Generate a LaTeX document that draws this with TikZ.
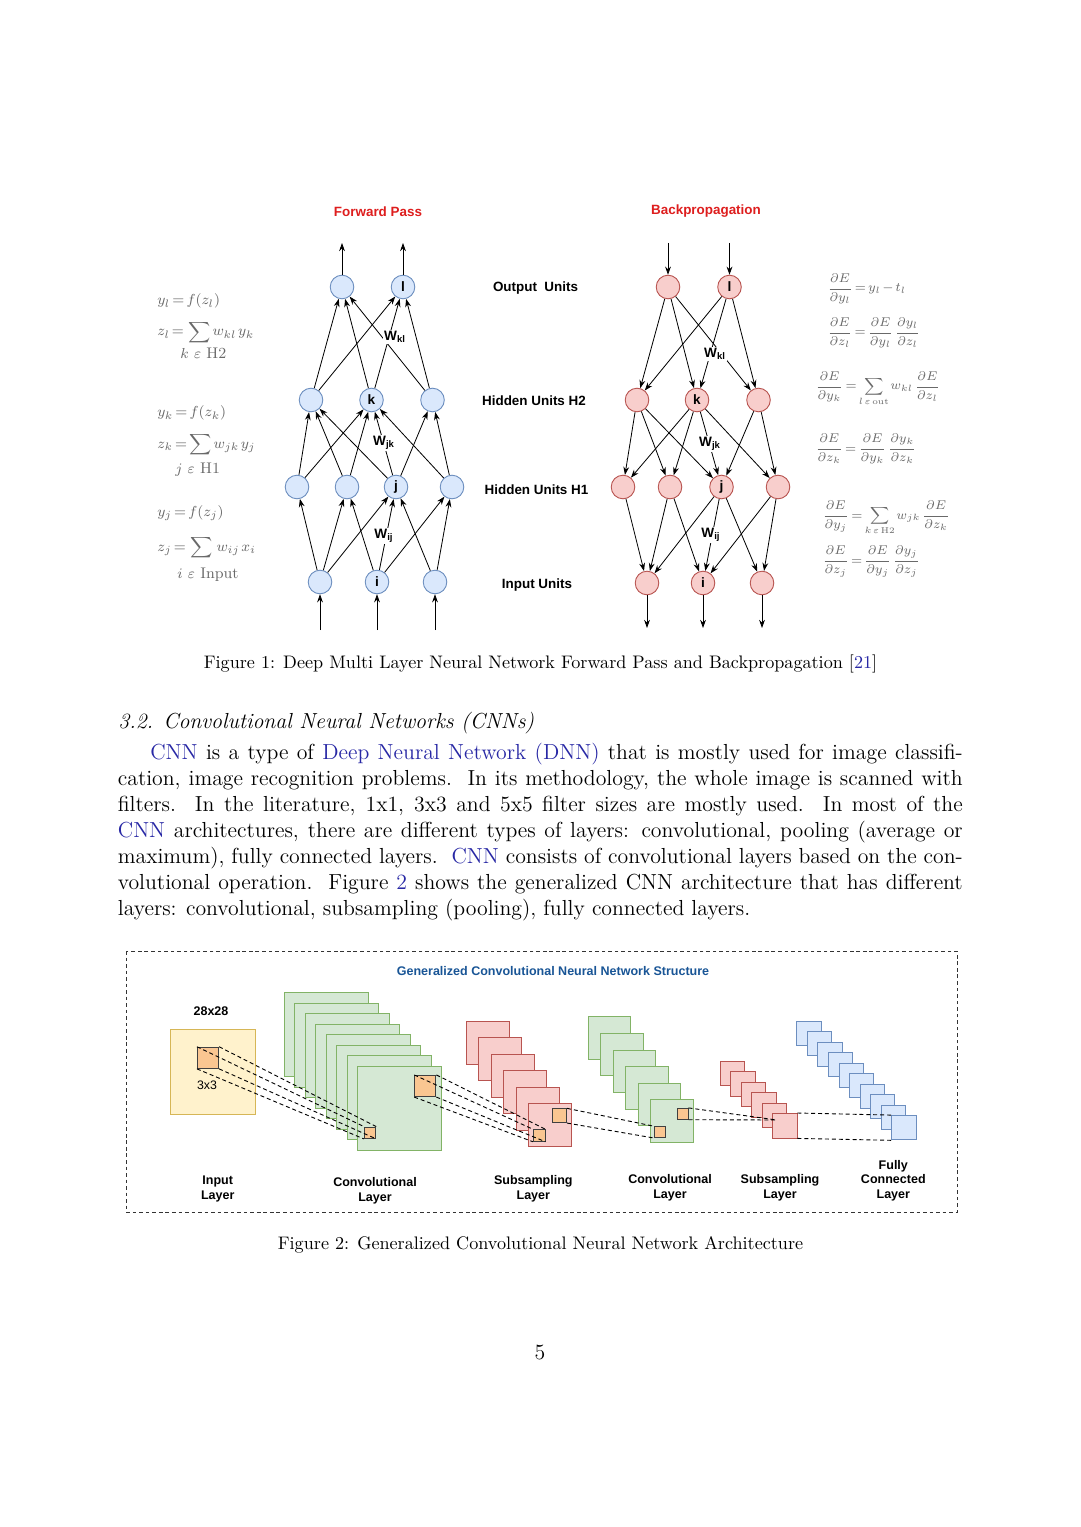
\documentclass[tikz,border=0pt]{standalone}
\usepackage{fontspec}
\usepackage{amsmath}
\usetikzlibrary{arrows.meta}
\newfontfamily\lsans{Liberation Sans}
\definecolor{fpfill}{RGB}{218,232,252}
\definecolor{fpdraw}{RGB}{108,142,191}
\definecolor{bpfill}{RGB}{248,206,204}
\definecolor{bpdraw}{RGB}{184,84,80}
\definecolor{titlered}{RGB}{222,30,30}
\definecolor{eqgray}{RGB}{105,105,105}
\definecolor{linkblue}{RGB}{40,40,165}
\definecolor{cnnblue}{RGB}{25,85,150}
\definecolor{yelfill}{RGB}{255,242,204}
\definecolor{yeldraw}{RGB}{214,182,86}
\definecolor{grnfill}{RGB}{213,232,212}
\definecolor{grndraw}{RGB}{130,179,102}
\definecolor{orgfill}{RGB}{250,198,145}
\newcommand{\tightmath}{\thickmuskip=2.5mu plus 1mu\medmuskip=2mu plus 1mu\thinmuskip=2mu}
\tikzset{
  nf/.style={circle, draw=fpdraw, fill=fpfill, line width=0.5pt, minimum size=13pt, inner sep=0pt, font=\lsans\bfseries\fontsize{7.5}{8}\selectfont},
  nb/.style={circle, draw=bpdraw, fill=bpfill, line width=0.5pt, minimum size=13pt, inner sep=0pt, font=\lsans\bfseries\fontsize{7.5}{8}\selectfont},
  arr/.style={-{Stealth[length=4.5pt,width=3.2pt]}, line width=0.45pt, black},
  wlab/.style={fill=white, inner sep=0.6pt, font=\lsans\bfseries\fontsize{7.5}{8}\selectfont},
  laylab/.style={inner sep=0pt, font=\lsans\bfseries\fontsize{7.4}{8}\selectfont},
  ttl/.style={inner sep=0pt, font=\lsans\bfseries\fontsize{7.4}{8}\selectfont, text=titlered},
  eqL/.style={text=eqgray, font=\fontsize{8.5}{10}\selectfont\tightmath, inner sep=0pt, anchor=base west},
  eqR/.style={text=eqgray, font=\fontsize{6.6}{8}\selectfont\tightmath, inner sep=0pt, anchor=base west},
  sq/.style={rectangle, inner sep=0pt, line width=0.5pt},
  dl/.style={dashed, dash pattern=on 2.2pt off 1.6pt, line width=0.5pt, black},
  cnnlab/.style={inner sep=0pt, font=\lsans\bfseries\fontsize{6.9}{8}\selectfont, align=center},
  bodytxt/.style={anchor=base west, inner sep=0pt, font=\fontsize{12}{14.5}\selectfont},
  captxt/.style={anchor=base, inner sep=0pt, font=\fontsize{10}{12.4}\selectfont}
}
\begin{document}
\begin{tikzpicture}[x=0.55118pt,y=-0.55118pt]
\fill[white] (0,0) rectangle (1080,1527);
\useasboundingbox (0,0) rectangle (1080,1527);

% ---------- Titles ----------
\node[ttl] (tfp) at (378,211.5) {Forward Pass};
\node[ttl] (tbp) at (706,211.5) {Backpropagation};

% ---------- Forward pass nodes ----------
\node[nf] (FOa) at (342,287) {};
\node[nf] (FOb) at (403,287) {l};
\node[nf] (FGa) at (311,400) {};
\node[nf] (FGb) at (371.5,400) {k};
\node[nf] (FGc) at (432.5,400) {};
\node[nf] (FHa) at (297,487) {};
\node[nf] (FHb) at (347,487) {};
\node[nf] (FHc) at (396,487) {j};
\node[nf] (FHd) at (452,487) {};
\node[nf] (FIa) at (320,582) {};
\node[nf] (FIb) at (377,582) {i};
\node[nf] (FIc) at (435,582) {};

\coordinate (FtA) at (342,243);
\coordinate (FtB) at (403,243);
\coordinate (FbA) at (320,630);
\coordinate (FbB) at (377,630);
\coordinate (FbC) at (435,630);
\draw[arr] (FOa) -- (FtA);
\draw[arr] (FOb) -- (FtB);
\draw[arr] (FbA) -- (FIa);
\draw[arr] (FbB) -- (FIb);
\draw[arr] (FbC) -- (FIc);

\foreach \a/\b in {FIa/FHa, FIa/FHb, FIa/FHc, FIb/FHb, FIb/FHc, FIb/FHd, FIc/FHc, FIc/FHd,
                   FHa/FGa, FHa/FGb, FHb/FGa, FHb/FGb, FHc/FGa, FHc/FGb, FHc/FGc, FHd/FGb, FHd/FGc,
                   FGa/FOa, FGa/FOb, FGb/FOa, FGb/FOb, FGc/FOa, FGc/FOb}
  \draw[arr] (\a) -- (\b);

\node[wlab] (fwkl) at (395,337) {W\textsubscript{kl}};
\node[wlab] (fwjk) at (384,443) {W\textsubscript{jk}};
\node[wlab] (fwij) at (384,536) {W\textsubscript{ij}};

% ---------- Layer labels ----------
\node[laylab] (lo) at (535.5,288) {Output\ \ Units};
\node[laylab] (lh2) at (534,401) {Hidden Units H2};
\node[laylab] (lh1) at (536.5,489.5) {Hidden Units H1};
\node[laylab] (li) at (537,585.5) {Input Units};

% ---------- Backprop nodes ----------
\node[nb] (BOa) at (668,287) {};
\node[nb] (BOb) at (729.5,287) {l};
\node[nb] (BGa) at (637,400) {};
\node[nb] (BGb) at (697,400) {k};
\node[nb] (BGc) at (758.5,400) {};
\node[nb] (BHa) at (623,487) {};
\node[nb] (BHb) at (670,487) {};
\node[nb] (BHc) at (721.5,487) {j};
\node[nb] (BHd) at (778,487) {};
\node[nb] (BIa) at (647,583) {};
\node[nb] (BIb) at (703,583) {i};
\node[nb] (BIc) at (762,583) {};

\coordinate (BtA) at (668,243);
\coordinate (BtB) at (729.5,243);
\coordinate (BbA) at (647,628);
\coordinate (BbB) at (703,628);
\coordinate (BbC) at (762,628);
\draw[arr] (BtA) -- (BOa);
\draw[arr] (BtB) -- (BOb);
\draw[arr] (BIa) -- (BbA);
\draw[arr] (BIb) -- (BbB);
\draw[arr] (BIc) -- (BbC);

\foreach \a/\b in {BOa/BGa, BOa/BGb, BOa/BGc, BOb/BGa, BOb/BGb, BOb/BGc,
                   BGa/BHa, BGa/BHb, BGa/BHc, BGb/BHa, BGb/BHb, BGb/BHc, BGb/BHd, BGc/BHc, BGc/BHd,
                   BHa/BIa, BHb/BIa, BHb/BIb, BHc/BIa, BHc/BIb, BHc/BIc, BHd/BIb, BHd/BIc}
  \draw[arr] (\a) -- (\b);

\node[wlab] (bwkl) at (715,354) {W\textsubscript{kl}};
\node[wlab] (bwjk) at (710,444) {W\textsubscript{jk}};
\node[wlab] (bwij) at (711,535) {W\textsubscript{ij}};

% ---------- Left equations ----------
\node[eqL] (el1) at (157,305) {$y_l = f(z_l)$};
\node[eqL] (el2) at (157,336) {$z_l = \;{\displaystyle\sum}\; w_{kl}\, y_k$};
\node[eqL] (el3) at (180,359) {$k\ \varepsilon\ \mathrm{H2}$};
\node[eqL] (el4) at (157,417) {$y_k = f(z_k)$};
\node[eqL] (el5) at (157,448) {$z_k = {\displaystyle\sum}\; w_{jk}\, y_j$};
\node[eqL] (el6) at (175,473) {$j\ \varepsilon\ \mathrm{H1}$};
\node[eqL] (el7) at (157,516) {$y_j = f(z_j)$};
\node[eqL] (el8) at (157,551) {$z_j = \;{\displaystyle\sum}\;\; w_{ij}\, x_i$};
\node[eqL] (el9) at (177,578) {$i\ \varepsilon\ \mathrm{Input}$};

% ---------- Right equations ----------
\node[eqR] (er1) at (827,292) {$\displaystyle\frac{\partial E}{\partial y_l} = y_l - t_l$};
\node[eqR] (er2) at (827,336) {$\displaystyle\frac{\partial E}{\partial z_l} = \frac{\partial E}{\partial y_l}\,\frac{\partial y_l}{\partial z_l}$};
\node[eqR] (er3) at (815,390) {$\displaystyle\frac{\partial E}{\partial y_k} = \sum_{l\,\varepsilon\,\mathrm{out}} w_{kl}\,\frac{\partial E}{\partial z_l}$};
\node[eqR] (er4) at (815,452) {$\displaystyle\frac{\partial E}{\partial z_k} = \frac{\partial E}{\partial y_k}\,\frac{\partial y_k}{\partial z_k}$};
\node[eqR] (er5) at (822,519) {$\displaystyle\frac{\partial E}{\partial y_j} = \sum_{k\,\varepsilon\,\mathrm{H2}} w_{jk}\,\frac{\partial E}{\partial z_k}$};
\node[eqR] (er6) at (822,564) {$\displaystyle\frac{\partial E}{\partial z_j} = \frac{\partial E}{\partial y_j}\,\frac{\partial y_j}{\partial z_j}$};

% ---------- Caption 1 ----------
\node[captxt] (cap1) at (540.5,668.5) {Figure 1: Deep Multi Layer Neural Network Forward Pass and Backpropagation [\textcolor{linkblue}{21}]};

% ---------- Section text ----------
\node[bodytxt] (sec) at (118,728) {\itshape 3.2. Convolutional Neural Networks (CNNs)};
\node[bodytxt] (t1) at (117.5,759) {\hbox to 465.7pt{\hskip 17.9pt\textcolor{linkblue}{CNN} is a type of \textcolor{linkblue}{Deep Neural Network (DNN)} that is mostly used for image classifi-}};
\node[bodytxt] (t2) at (117.5,785) {\hbox to 465.7pt{cation, image recognition problems.\ \ In its methodology, the whole image is scanned with}};
\node[bodytxt] (t3) at (117.5,811) {\hbox to 465.7pt{filters.\ \ In the literature, 1x1, 3x3 and 5x5 filter sizes are mostly used.\ \ In most of the}};
\node[bodytxt] (t4) at (117.5,837) {\hbox to 465.7pt{\textcolor{linkblue}{CNN} architectures, there are different types of layers: convolutional, pooling (average or}};
\node[bodytxt] (t5) at (117.5,863) {\hbox to 465.7pt{maximum), fully connected layers.\ \ \textcolor{linkblue}{CNN} consists of convolutional layers based on the con-}};
\node[bodytxt] (t6) at (117.5,889) {\hbox to 465.7pt{volutional operation.\ \ Figure \textcolor{linkblue}{2} shows the generalized CNN architecture that has different}};
\node[bodytxt] (t7) at (117.5,915) {layers: convolutional, subsampling (pooling), fully connected layers.};

% ---------- CNN figure ----------
\draw[dashed, dash pattern=on 2pt off 1.6pt, line width=0.5pt, black!80] (126,951) rectangle (957,1212);
\node[inner sep=0pt, font=\lsans\bfseries\fontsize{6.9}{8}\selectfont, text=cnnblue] (cnnt) at (553,971) {Generalized Convolutional Neural Network Structure};

% input layer
\node[sq, draw=yeldraw, fill=yelfill, minimum size=47pt] (inp) at (213.3,1072.2) {};
\node[cnnlab] (l28) at (211,1011) {28x28};
\node[sq, draw=black!75, fill=orgfill, minimum size=11.7pt] (inO) at (208,1057.8) {};
\node[inner sep=0pt, font=\lsans\fontsize{6.8}{8}\selectfont] (l33) at (207,1085) {3x3};

% conv 1
\foreach \n in {0,...,7}
  \node[sq, draw=grndraw, fill=grnfill, minimum size=46.3pt] (ca\n) at ({326.3+10.5*\n},{1034.7+10.5*\n}) {};
\node[sq, draw=black!75, fill=orgfill, minimum size=6.3pt] (c1s) at (370,1132.7) {};
\node[sq, draw=black!75, fill=orgfill, minimum size=11.7pt] (c1b) at (425.3,1086) {};

% subsampling 1
\foreach \n in {0,...,5}
  \node[sq, draw=bpdraw, fill=bpfill, minimum size=23.7pt] (sa\n) at ({487.5+12.5*\n},{1042.5+16.5*\n}) {};
\node[sq, draw=black!75, fill=orgfill, minimum size=6.4pt] (s1s) at (539.2,1135.5) {};
\node[sq, draw=black!75, fill=orgfill, minimum size=7.6pt] (s1b) at (559.7,1115.7) {};

% conv 2
\foreach \n in {0,...,5}
  \node[sq, draw=grndraw, fill=grnfill, minimum size=23.4pt] (cb\n) at ({609.5+12.5*\n},{1038+16.6*\n}) {};
\node[sq, draw=black!75, fill=orgfill, minimum size=6pt] (c2s) at (660.3,1132.2) {};
\node[sq, draw=black!75, fill=orgfill, minimum size=6pt] (c2b) at (682.6,1113.8) {};

% subsampling 2
\foreach \n in {0,...,5}
  \node[sq, draw=bpdraw, fill=bpfill, minimum size=13.5pt] (sb\n) at ({732.2+10.5*\n},{1073.2+10.5*\n}) {};

% fully connected
\foreach \n in {0,...,9}
  \node[sq, draw=fpdraw, fill=fpfill, minimum size=13.4pt] (fc\n) at ({808.9+10.55*\n},{1033.2+10.5*\n}) {};

% dashed connectors
\foreach \c in {north west, north east, south east, south west} {
  \draw[dl] (inO.\c) -- (c1s.\c);
  \draw[dl] (c1b.\c) -- (s1s.\c);
}
\draw[dl] (s1b.north east) -- (c2s.north west);
\draw[dl] (s1b.south east) -- (c2s.south west);
\coordinate (s2hit) at (777,1120);
\draw[dl] (c2b.north east) -- (s2hit);
\draw[dl] (c2b.south east) -- (s2hit);
\draw[dl] (sb5.north east) -- (fc9.north west);
\draw[dl] (sb5.south east) -- (fc9.south west);

% layer labels
\node[cnnlab] (lin) at (217.7,1189) {Input\\Layer};
\node[cnnlab] (lc1) at (375,1191) {Convolutional\\Layer};
\node[cnnlab] (ls1) at (533.3,1189) {Subsampling\\Layer};
\node[cnnlab] (lc2) at (670,1187.5) {Convolutional\\Layer};
\node[cnnlab] (ls2) at (780,1187.5) {Subsampling\\Layer};
\node[cnnlab] (lfc) at (893.3,1180.5) {Fully\\Connected\\Layer};

% ---------- Caption 2 and page number ----------
\node[captxt] (cap2) at (540.5,1249) {Figure 2: Generalized Convolutional Neural Network Architecture};
\node[anchor=base, inner sep=0pt, font=\fontsize{12}{14.5}\selectfont] (pnum) at (540,1359) {5};
\end{tikzpicture}
\end{document}
